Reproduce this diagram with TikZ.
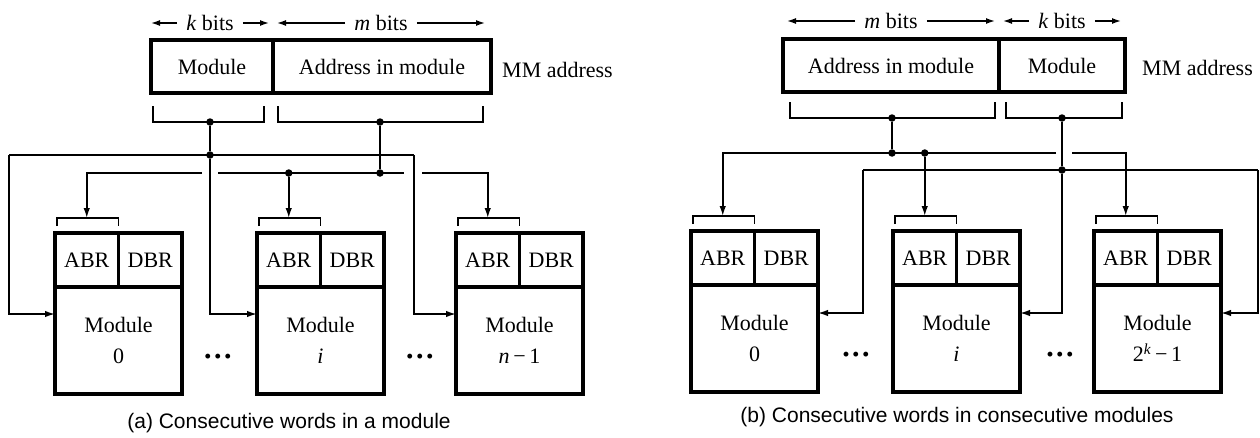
\documentclass[tikz,border=0pt]{standalone}
\usepackage{fontspec}
\setmainfont{Liberation Serif}
\newfontfamily\capfont{Liberation Sans}
\usetikzlibrary{calc}
\usetikzlibrary{arrows.meta}
\tikzstyle{cell}=[draw,line width=3.5pt,inner sep=0pt,align=center,font=\fontsize{22}{31}\selectfont]
\tikzstyle{regcell}=[cell,minimum width=63.5pt,minimum height=54pt]
\tikzstyle{bodycell}=[cell,minimum width=127pt,minimum height=107pt]
\tikzstyle{addrcell}=[cell,minimum height=53pt]
\tikzstyle{wire}=[line width=1.6pt]
\tikzstyle{wirearrow}=[wire,-{Latex[length=10pt,width=6.5pt]}]
\tikzstyle{dimarrow}=[line width=1.4pt,-{Latex[length=9pt,width=6pt]}]
\tikzstyle{bracket}=[line width=1.6pt]
\tikzstyle{junction}=[circle,fill,inner sep=0pt,minimum size=7.5pt]
\tikzstyle{lbl}=[font=\fontsize{22}{26}\selectfont,inner sep=1pt]
\tikzstyle{dots}=[font=\fontsize{30}{30}\selectfont\bfseries,inner sep=1pt]
\tikzstyle{caption}=[font=\capfont\fontsize{21}{25}\selectfont,inner sep=1pt]
\newcommand{\drawmodule}[4]{% name, left x, top y, label
\pgfmathsetmacro{\mx}{#2}
\pgfmathsetmacro{\my}{#3}
\node[regcell] (#1abr) at (\mx+31.75,\my+27) {ABR};
\node[regcell] (#1dbr) at (\mx+95.25,\my+27) {DBR};
\node[bodycell] (#1) at (\mx+63.5,\my+107.5) {Module\\#4};
\draw[bracket] (\mx+2,\my-7) -- (\mx+2,\my-15) -- (\mx+63.5,\my-15) -- (\mx+63.5,\my-7);
\coordinate (#1in) at (\mx+31.75,\my-15); % top of the ABR bracket
\coordinate (#1wside) at (\mx,\my+81);
\coordinate (#1eside) at (\mx+127,\my+82);
}
\newcommand{\bitspan}[5]{% name, left x, right x, y, text
\node[lbl,inner sep=9pt] (#1) at ({(#2+#3)/2},#4) {#5};
\draw[dimarrow] (#1.west) -- (#2,#4);
\draw[dimarrow] (#1.east) -- (#3,#4);
}
\newcommand{\fieldbracket}[3]{% left x, right x, bottom y
\draw[bracket] (#1,#3-16) -- (#1,#3) -- (#2,#3) -- (#2,#3-16);
}

\begin{document}
\begin{tikzpicture}[x=1pt,y=-1pt]
\useasboundingbox (0,0) rectangle (1260,437);
% (a) consecutive words in a module
\bitspan{aKbits}{151}{269}{23}{\textit{k} bits}
\bitspan{aMbits}{277}{485}{23}{\textit{m} bits}
\node[addrcell,minimum width=122pt] (aMod) at (212,66.5) {Module};
\node[addrcell,minimum width=218pt] (aOff) at (382,66.5) {Address in module};
\node[lbl,anchor=west] (aMM) at (501,70) {MM address};
\fieldbracket{153}{264}{122}
\fieldbracket{278}{483}{122}
\drawmodule{am0}{55}{233}{0}
\drawmodule{ami}{257}{233}{\textit{i}}
\drawmodule{amn}{456}{233}{\textit{n}\,−\,1}
\node[dots] (aDots1) at (218,360) {···};
\node[dots] (aDots2) at (420,360) {···};
\node[junction] (aKsel) at (210,122) {};
\node[junction] (aKbus) at (210,155) {};
\node[junction] (aAsel) at (380,122) {};
\node[junction] (aAbus) at (380,173) {};
\node[junction] (aAtap) at (amiin |- aAbus) {};
\coordinate (aKl) at (9,155);
\coordinate (aKr) at (414,155);
\coordinate (aAg1) at (202,173);
\coordinate (aAg2) at (218,173);
\coordinate (aAg3) at (404,173);
\coordinate (aAg4) at (422,173);
\draw[wire] (aKsel) -- (aKbus);
\draw[wire] (aKl) -- (aKr);
\draw[wirearrow] (aKl) |- (am0wside);
\draw[wirearrow] (aKbus) |- (amiwside);
\draw[wirearrow] (aKr) |- (amnwside);
\draw[wire] (aAsel) -- (aAbus);
\draw[wirearrow] (aAg1) -| (am0in);
\draw[wire] (aAg2) -- (aAg3);
\draw[wirearrow] (aAtap) -- (amiin);
\draw[wirearrow] (aAg4) -| (amnin);
\node[caption] (aCap) at (289,423) {(a) Consecutive words in a module};
% (b) consecutive words in consecutive modules
\bitspan{bMbits}{787}{995}{21}{\textit{m} bits}
\bitspan{bKbits}{1003}{1121}{21}{\textit{k} bits}
\node[addrcell,minimum width=216pt] (bOff) at (891,65.5) {Address in module};
\node[addrcell,minimum width=126pt] (bMod) at (1062,65.5) {Module};
\node[lbl,anchor=west] (bMM) at (1141,68) {MM address};
\fieldbracket{790}{995}{118}
\fieldbracket{1006}{1122}{118}
\drawmodule{bm0}{691}{231}{0}
\drawmodule{bmi}{893}{231}{\textit{i}}
\drawmodule{bmn}{1094}{231}{2\textsuperscript{\textit{k}}\,−\,1}
\node[dots] (bDots1) at (856,358) {···};
\node[dots] (bDots2) at (1060,358) {···};
\node[junction] (bAsel) at (892,118) {};
\node[junction] (bAbus) at (892,153) {};
\node[junction] (bAtap) at (bmiin |- bAbus) {};
\node[junction] (bKsel) at (1062,118) {};
\node[junction] (bKbus) at (1062,170) {};
\coordinate (bAg1) at (1056,153);
\coordinate (bAg2) at (1072,153);
\coordinate (bKl) at (863,170);
\coordinate (bKr) at (1258,170);
\draw[wire] (bAsel) -- (bAbus);
\draw[wirearrow] (bAg1) -| (bm0in);
\draw[wirearrow] (bAtap) -- (bmiin);
\draw[wirearrow] (bAg2) -| (bmnin);
\draw[wire] (bKsel) -- (bKbus);
\draw[wire] (bKl) -- (bKr);
\draw[wirearrow] (bKl) |- (bm0eside);
\draw[wirearrow] (bKbus) |- (bmieside);
\draw[wirearrow] (bKr) |- (bmneside);
\node[caption] (bCap) at (957,417) {(b) Consecutive words in consecutive modules};
\end{tikzpicture}
\end{document}
